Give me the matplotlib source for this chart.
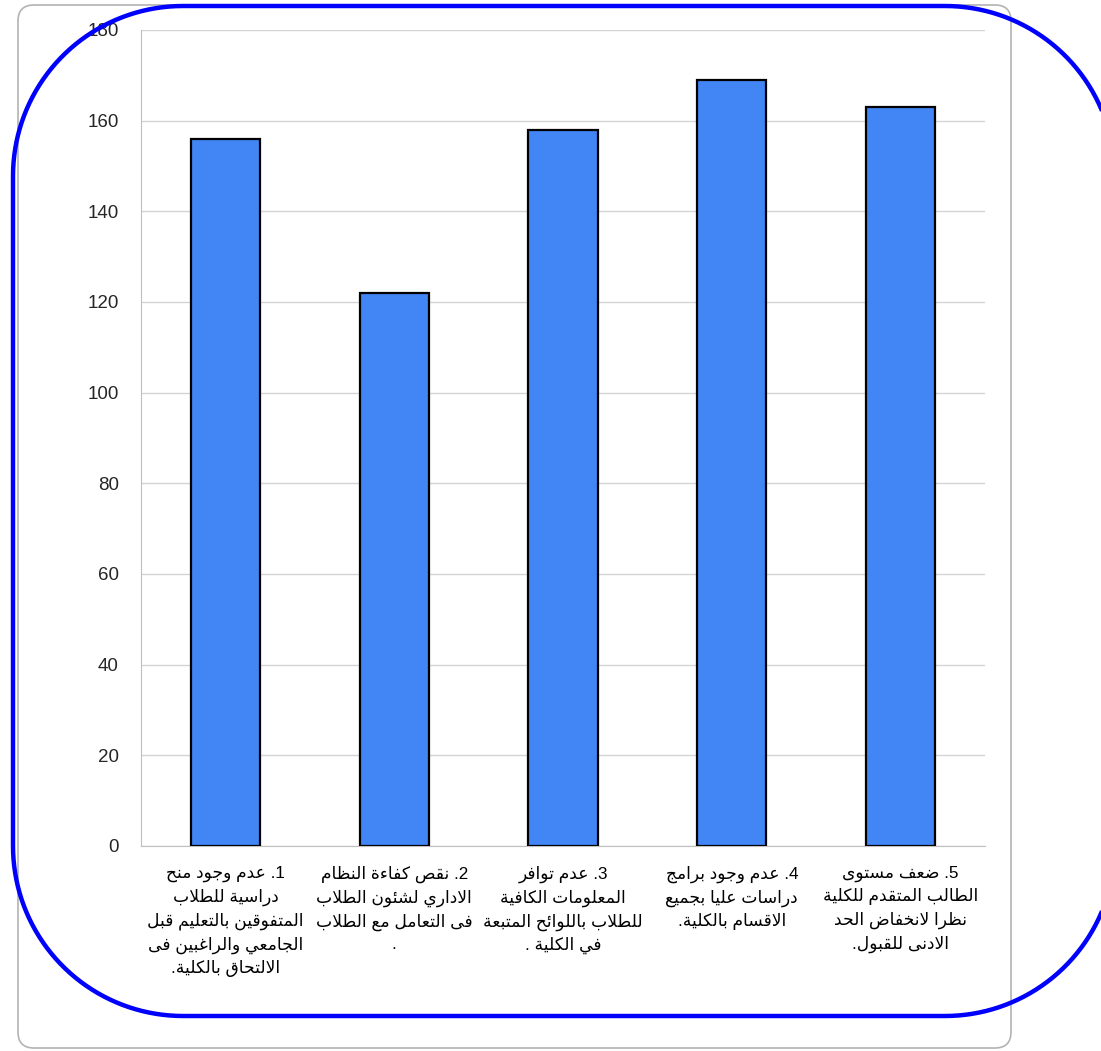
import matplotlib
matplotlib.use('Agg')
import numpy as np
import matplotlib.pyplot as plt
from matplotlib.patches import FancyBboxPatch, Polygon

# Chart data
values = [156, 122, 158, 169, 163]
labels = [
    ['1. عدم وجود منح', 'دراسية للطلاب', 'المتفوقين بالتعليم قبل',
     'الجامعي والراغبين فى', 'الالتحاق بالكلية.'],
    ['2. نقص كفاءة النظام', 'الاداري لشئون الطلاب', 'فى التعامل مع الطلاب', '.'],
    ['3. عدم توافر', 'المعلومات الكافية', 'للطلاب باللوائح المتبعة', 'في الكلية .'],
    ['4. عدم وجود برامج', 'دراسات عليا بجميع', 'الاقسام بالكلية.'],
    ['5. ضعف مستوى', 'الطالب المتقدم للكلية', 'نظرا لانخفاض الحد', 'الادنى للقبول.'],
]
y_ticks = [0, 20, 40, 60, 80, 100, 120, 140, 160, 180]

# matplotlib has no Arabic shaping, so map letters to their presentation
# forms by hand: (first form code, number of forms: isolated/final/initial/medial)
ARABIC_FORMS = {
    '\u0621': (0xFE80, 1), '\u0622': (0xFE81, 2), '\u0623': (0xFE83, 2), '\u0624': (0xFE85, 2),
    '\u0625': (0xFE87, 2), '\u0626': (0xFE89, 4), '\u0627': (0xFE8D, 2), '\u0628': (0xFE8F, 4),
    '\u0629': (0xFE93, 2), '\u062A': (0xFE95, 4), '\u062B': (0xFE99, 4), '\u062C': (0xFE9D, 4),
    '\u062D': (0xFEA1, 4), '\u062E': (0xFEA5, 4), '\u062F': (0xFEA9, 2), '\u0630': (0xFEAB, 2),
    '\u0631': (0xFEAD, 2), '\u0632': (0xFEAF, 2), '\u0633': (0xFEB1, 4), '\u0634': (0xFEB5, 4),
    '\u0635': (0xFEB9, 4), '\u0636': (0xFEBD, 4), '\u0637': (0xFEC1, 4), '\u0638': (0xFEC5, 4),
    '\u0639': (0xFEC9, 4), '\u063A': (0xFECD, 4), '\u0641': (0xFED1, 4), '\u0642': (0xFED5, 4),
    '\u0643': (0xFED9, 4), '\u0644': (0xFEDD, 4), '\u0645': (0xFEE1, 4), '\u0646': (0xFEE5, 4),
    '\u0647': (0xFEE9, 4), '\u0648': (0xFEED, 2), '\u0649': (0xFEEF, 2), '\u064A': (0xFEF1, 4),
}
LAM_ALEF = {'\u0622': 0xFEF5, '\u0623': 0xFEF7, '\u0625': 0xFEF9, '\u0627': 0xFEFB}


def shape_arabic(line):
    units = []
    i = 0
    while i < len(line):
        c = line[i]
        if c == '\u0644' and i + 1 < len(line) and line[i + 1] in LAM_ALEF:
            units.append(('la', line[i + 1]))
            i += 2
        else:
            units.append(('c', c))
            i += 1
    out = []
    for k, (kind, c) in enumerate(units):
        prev = units[k - 1] if k > 0 else None
        nxt = units[k + 1] if k + 1 < len(units) else None
        joins_prev = (prev is not None and prev[0] == 'c' and prev[1] in ARABIC_FORMS
                      and ARABIC_FORMS[prev[1]][1] == 4)
        if kind == 'la':
            out.append(chr(LAM_ALEF[c] + (1 if joins_prev else 0)))
            continue
        if c not in ARABIC_FORMS:
            out.append(c)
            continue
        base, n = ARABIC_FORMS[c]
        joins_next = (n == 4 and nxt is not None
                      and (nxt[0] == 'la' or (nxt[1] in ARABIC_FORMS and ARABIC_FORMS[nxt[1]][1] > 1)))
        if n == 1:
            form = 0
        elif n == 2:
            form = 1 if joins_prev else 0
        else:
            form = {(False, False): 0, (True, False): 1,
                    (False, True): 2, (True, True): 3}[(joins_prev, joins_next)]
        out.append(chr(base + form))
    # right-to-left: reverse into visual order (digits here are single)
    return ''.join(out)[::-1]


def rounded_rect(x0, y0, x1, y1, r, n=40):
    # corners as short line segments (y grows downward here)
    pts = []
    for cx, cy, a0 in [(x1 - r, y0 + r, -90), (x1 - r, y1 - r, 0),
                       (x0 + r, y1 - r, 90), (x0 + r, y0 + r, 180)]:
        a = np.radians(np.linspace(a0, a0 + 90, n))
        pts.extend(zip(cx + r * np.cos(a), cy + r * np.sin(a)))
    return np.array(pts)


fig = plt.figure(figsize=(11.01, 10.51), dpi=100)

# grey rounded border behind the chart
bg = fig.add_axes([0, 0, 1, 1], zorder=0)
bg.set_xlim(0, 1101)
bg.set_ylim(1051, 0)
bg.axis('off')
bg.add_patch(FancyBboxPatch((18, 5), 993, 1043, boxstyle='round,pad=0,rounding_size=16',
                            fc='white', ec='#b3b3b3', lw=1.2))

ax = fig.add_axes([141 / 1101, 205 / 1051, 844 / 1101, 816 / 1051], zorder=1)
ax.patch.set_alpha(0)

x = list(range(len(values)))
ax.bar(x, values, width=0.41, color='#4285f4', edgecolor='black', linewidth=1.6, zorder=3)

ax.set_xlim(-0.5, len(values) - 0.5)
ax.set_ylim(0, 180)
ax.set_yticks(y_ticks)
ax.set_yticklabels([str(t) for t in y_ticks], family=['Liberation Sans', 'DejaVu Sans'],
                   fontsize=13.5, color='#262626')
ax.tick_params(axis='y', length=0, pad=16)
ax.set_xticks([])
ax.grid(axis='y', color='#d4d4d4', linewidth=1, zorder=0)
for side in ['top', 'right']:
    ax.spines[side].set_visible(False)
ax.spines['left'].set_color('#bfbfbf')
ax.spines['bottom'].set_color('#bfbfbf')

for i, lines in enumerate(labels):
    text = '\n'.join(shape_arabic(l) for l in lines)
    ax.text(i, -0.024, text, transform=ax.get_xaxis_transform(), ha='center', va='top',
            multialignment='center', fontsize=12.3, linespacing=1.5,
            family=['Liberation Sans', 'DejaVu Sans'], color='black')

# blue rounded outline drawn on top of everything
top = fig.add_axes([0, 0, 1, 1], zorder=2)
top.set_xlim(0, 1101)
top.set_ylim(1051, 0)
top.axis('off')
top.patch.set_alpha(0)
top.add_patch(Polygon(rounded_rect(13, 6, 1115, 1016, 170), closed=True,
                      fc='none', ec='#0000ff', lw=3.2))

fig.savefig('out.png', dpi=100)
